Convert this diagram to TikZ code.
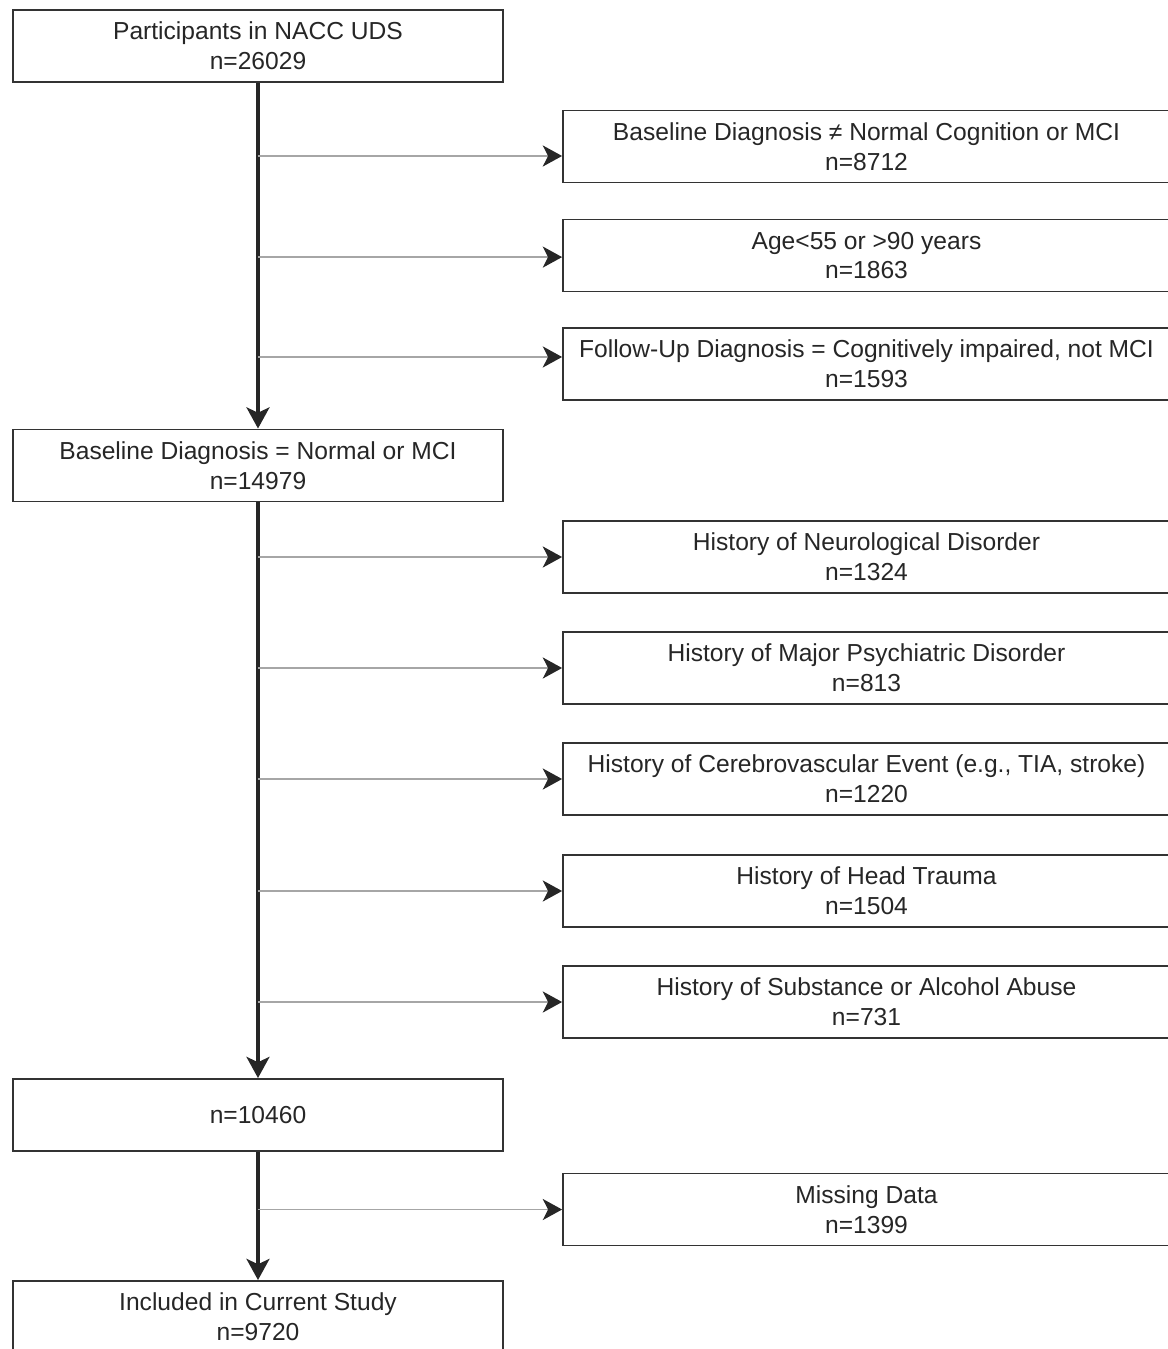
\documentclass[tikz,border=0pt]{standalone}
\usepackage{fontspec}
\setmainfont{Liberation Sans}
\usetikzlibrary{arrows.meta}
\begin{document}
\begin{tikzpicture}[x=0.02cm,y=-0.02cm,
    stage/.style={draw=black!80,line width=1.1pt,minimum width=9.8cm,minimum height=1.44cm,
        inner sep=0pt,align=center,text=black!85,font=\fontsize{14}{17}\selectfont},
    excl/.style={stage,minimum width=12.14cm},
    trunk/.style={line width=2.2pt,draw=black!85,-{Stealth[length=12pt,width=13pt,inset=3pt]}},
    side/.style={line width=1pt,draw=black!35,-{Stealth[length=11pt,width=12pt,inset=3pt,color=black!85]}}]
        \useasboundingbox (0,0) rectangle (1168,1349);
        \clip (0,0) rectangle (1168,1349);
        % main column
        \node[stage] (p0) at (258,46) {Participants in NACC UDS\\n=26029};
        \node[stage] (p1) at (258,465.5) {Baseline Diagnosis = Normal or MCI\\n=14979};
        \node[stage] (p2) at (258,1115) {n=10460};
        \node[stage] (p3) at (258,1317) {Included in Current Study\\n=9720};
        % exclusions
        \node[excl] (e1) at (866.5,146.5) {Baseline Diagnosis ≠ Normal Cognition or MCI\\n=8712};
        \node[excl] (e2) at (866.5,255.5) {Age<55 or >90 years\\n=1863};
        \node[excl] (e3) at (866.5,364) {Follow-Up Diagnosis = Cognitively impaired, not MCI\\n=1593};
        \node[excl] (e4) at (866.5,557) {History of Neurological Disorder\\n=1324};
        \node[excl] (e5) at (866.5,668) {History of Major Psychiatric Disorder\\n=813};
        \node[excl] (e6) at (866.5,779) {History of Cerebrovascular Event (e.g., TIA, stroke)\\n=1220};
        \node[excl] (e7) at (866.5,891) {History of Head Trauma\\n=1504};
        \node[excl] (e8) at (866.5,1002) {History of Substance or Alcohol Abuse\\n=731};
        \node[excl] (e9) at (866.5,1209.5) {Missing Data\\n=1399};
        % trunk
        \draw[trunk] (p0) -- (p1);
        \draw[trunk] (p1) -- (p2);
        \draw[trunk] (p2) -- (p3);
        % side arrows
        \foreach \e/\dy in {e1/-5.4pt,e2/-0.9pt,e3/4pt,e4/0pt,e5/0pt,e6/0pt,e7/0pt,e8/0pt,e9/0pt}
            \draw[side] ([yshift=\dy]p0.south |- \e.west) -- ([yshift=\dy]\e.west);
\end{tikzpicture}
\end{document}
